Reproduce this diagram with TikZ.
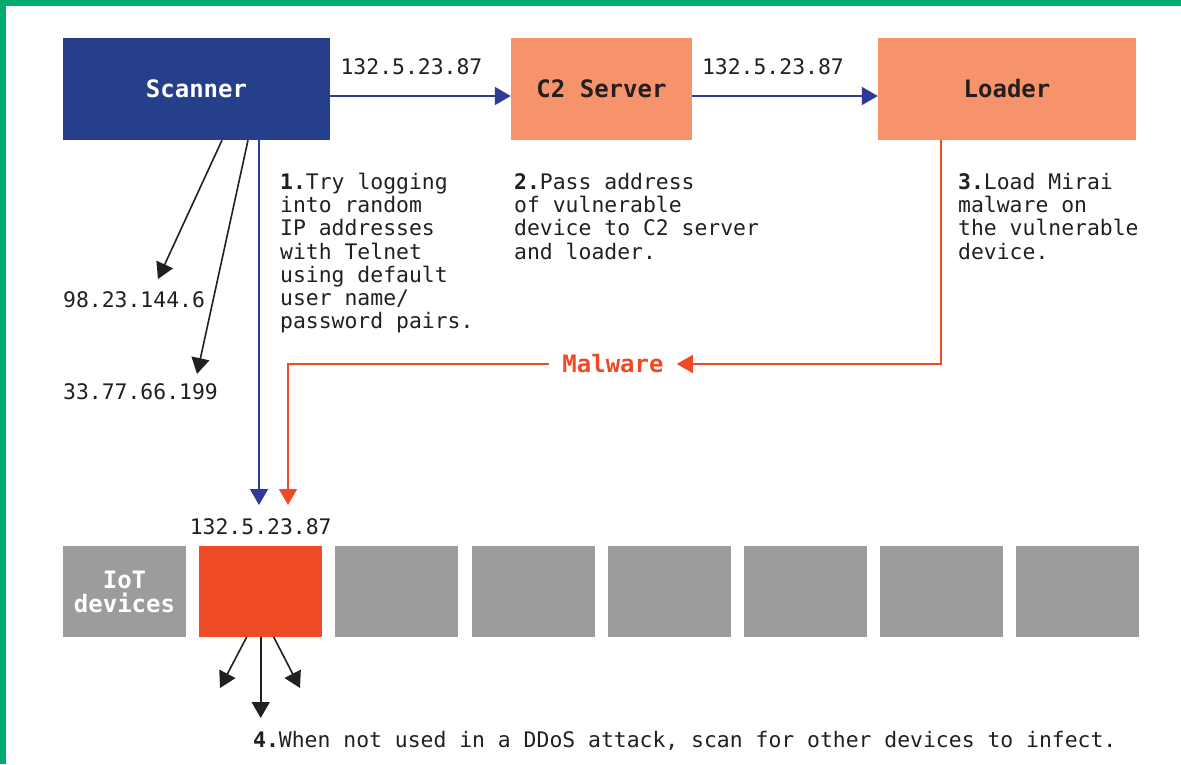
\documentclass[tikz,border=0pt]{standalone}
\usepackage{fontspec}
\setmainfont{DejaVu Sans Mono}
\setmonofont{DejaVu Sans Mono}
\usetikzlibrary{arrows.meta, positioning}

\definecolor{scanblue}{RGB}{38,63,138}
\definecolor{lineblue}{RGB}{46,58,150}
\definecolor{salmon}{RGB}{246,147,106}
\definecolor{hotred}{RGB}{238,75,36}
\definecolor{devgray}{RGB}{157,156,154}
\definecolor{framegreen}{RGB}{0,171,110}
\definecolor{ink}{RGB}{35,31,32}

\begin{document}
\begin{tikzpicture}[
						x=1pt, y=-1pt,
						>={Triangle[length=16pt,width=18pt]},
						txt/.style = {font=\fontsize{21.4}{23.2}\selectfont, text=ink, inner sep=0pt},
						note/.style = {txt, align=left, anchor=north west},
						box/.style = {minimum height=102pt, inner sep=0pt, font=\fontsize{24}{24}\selectfont\bfseries},
						dev/.style = {fill=devgray, minimum width=123pt, minimum height=91pt, inner sep=0pt, outer sep=0pt},
						blueflow/.style = {->, draw=lineblue, line width=1.6pt},
						malflow/.style = {->, draw=hotred, line width=1.6pt},
						plain/.style = {->, draw=ink, line width=1.6pt},
					]

\useasboundingbox (0,0) rectangle (1181,764);
\fill[framegreen] (0,0) rectangle (1181,6);
\fill[framegreen] (0,0) rectangle (6,764);

\node[box, fill=scanblue, text=white, minimum width=267pt] (scanner) at (196.5,89) {Scanner};
\node[box, fill=salmon, text=ink, minimum width=181pt] (c2) at (601.5,89) {C2 Server};
\node[box, fill=salmon, text=ink, minimum width=258pt] (loader) at (1007,89) {Loader};

\node[note] (note1) at (280,173) {\textbf{1.}Try logging\\into random\\IP addresses\\with Telnet\\using default\\user name/\\password pairs.};
\node[note] (note2) at (514,173) {\textbf{2.}Pass address\\of vulnerable\\device to C2 server\\and loader.};
\node[note] (note3) at (958,173) {\textbf{3.}Load Mirai\\malware on\\the vulnerable\\device.};

\node[txt, anchor=west] (ip1) at (63,300) {98.23.144.6};
\node[txt, anchor=west] (ip2) at (63,392) {33.77.66.199};

\node[dev, text=white, align=center, font=\fontsize{24}{24}\selectfont\bfseries] (d1) at (124.5,591.5) {IoT\\devices};
\node[dev, fill=hotred] (d2) [right=13.2pt of d1] {};
\node[dev] (d3) [right=13.2pt of d2] {};
\node[dev] (d4) [right=13.2pt of d3] {};
\node[dev] (d5) [right=13.2pt of d4] {};
\node[dev] (d6) [right=13.2pt of d5] {};
\node[dev] (d7) [right=13.2pt of d6] {};
\node[dev] (d8) [right=13.2pt of d7] {};

\node[txt] (ip3) [above=11pt of d2] {132.5.23.87};
\node[txt, anchor=west] (note4) at (253,741) {\textbf{4.}When not used in a DDoS attack, scan for other devices to infect.};

\node[inner xsep=13pt, inner ysep=0pt, text=hotred, font=\fontsize{24}{24}\selectfont\bfseries] (malware) at (613,364) {Malware};

\coordinate (s1) at (158,279);
\coordinate (s2) at (197,374);
\coordinate (bt) at (259,505);
\coordinate (ot) at (288,505);
\coordinate (e1) at (220,688);
\coordinate (e3) at (300,688);
\path (d2.south) ++(0,81) coordinate (e2);

\draw[blueflow] ([yshift=-7pt]scanner.east) -- ([yshift=-7pt]c2.west) node[txt, above=20pt, pos=0.45] {132.5.23.87};
\draw[blueflow] ([yshift=-7pt]c2.east) -- ([yshift=-7pt]loader.west) node[txt, above=20pt, pos=0.435] {132.5.23.87};
\draw[blueflow] ([xshift=62.5pt]scanner.south) -- (bt);

\draw[plain] ([xshift=25.5pt]scanner.south) -- (s1);
\draw[plain] ([xshift=51.5pt]scanner.south) -- (s2);

\draw[malflow] ([xshift=-66pt]loader.south) |- (malware.east);
\draw[malflow] (malware.west) -| (ot);

\draw[plain] ([xshift=-14pt]d2.south) -- (e1);
\draw[plain] (d2.south) -- (e2);
\draw[plain] ([xshift=13pt]d2.south) -- (e3);

\end{tikzpicture}
\end{document}
